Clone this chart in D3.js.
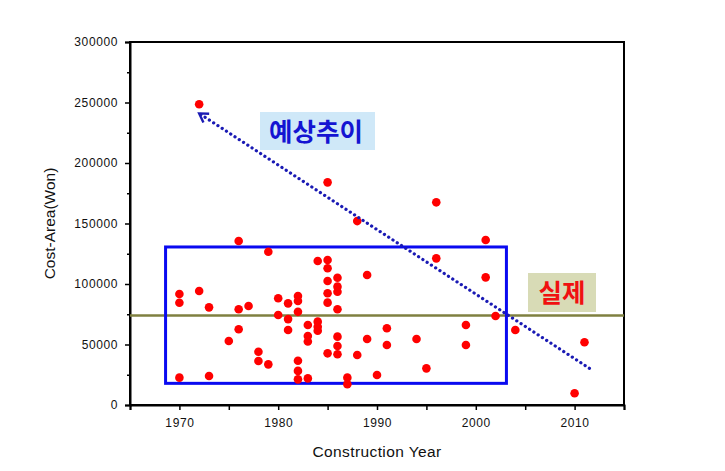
<!DOCTYPE html>
<html><head><meta charset="utf-8">
<script src="https://cdn.jsdelivr.net/npm/d3@7"></script>
<style>body{margin:0;background:#fff}svg{display:block}</style>
</head><body>
<script>
// ---- data ----
const years = [1970,1970,1970,1972,1972,1973,1973,1975,1976,1976,1976,1977,1978,1978,1979,1979,1980,1980,1981,1981,1981,
  1982,1982,1982,1982,1982,1982,1983,1983,1983,1983,1984,1984,1984,1984,
  1985,1985,1985,1985,1985,1985,1985,1986,1986,1986,1986,1986,1986,1986,
  1987,1987,1988,1988,1989,1989,1990,1991,1991,1994,1995,1996,1996,1999,1999,2001,2001,2002,2004,2010,2011];
const costs = [91700,84500,22600,248500,94200,80700,24000,52900,135500,79100,62600,81800,44000,36400,126700,33600,88200,74400,84000,71000,62000,
  90100,86000,77000,36600,28200,21200,66100,57000,52500,22000,119000,68900,64700,61400,
  184000,119800,113000,102500,92300,84600,42700,105200,97800,93600,79100,56500,48800,41900,
  22600,17100,152000,41300,107400,54500,24800,63400,49600,54500,30300,167500,121200,66100,49600,136400,105500,73500,62000,9700,51800];
const xTicks = [1970,1980,1990,2000,2010];
const yTicks = [0,50000,100000,150000,200000,250000,300000];
const actualLevel = 74000;            // 실제
const boxYears = [1968.6, 2003.1];
const boxCosts = [17900, 130600];
const trendYears = [2011.5, 1972.0];  // 예상추이 (arrow towards 1972)
const trendCosts = [30300, 241000];

const W = 725, H = 471;
const m = {l:130, r:101, t:42, b:66};
const svg = d3.select("body").append("svg").attr("width", W).attr("height", H)
  .style("font-family","'Liberation Sans', Arial, sans-serif");

const x = d3.scaleLinear().domain([1965,2015]).range([m.l, W - m.r]);
const y = d3.scaleLinear().domain([0,300000]).range([H - m.b, m.t]);

// frame
svg.append("rect").attr("x", x(1965)).attr("y", y(300000))
  .attr("width", x(2015)-x(1965)).attr("height", y(0)-y(300000))
  .attr("fill","none").attr("stroke","#000").attr("stroke-width",2);

// axes
const gx = svg.append("g").attr("transform",`translate(0,${y(0)})`)
  .call(d3.axisBottom(x).tickValues(d3.range(1965,2016,5)).tickSize(5).tickPadding(8)
    .tickFormat(d => xTicks.includes(d) ? d : ""));
const gy = svg.append("g").attr("transform",`translate(${x(1965)},0)`)
  .call(d3.axisLeft(y).tickValues(d3.range(0,300001,25000)).tickSize(5).tickPadding(7)
    .tickFormat(d => yTicks.includes(d) ? d : ""));
[gx,gy].forEach(g=>{
  g.select(".domain").attr("stroke-width",2);
  g.selectAll(".tick line").attr("stroke-width",1.5);
  g.selectAll("text").attr("font-size",12).attr("fill","#111").style("letter-spacing","0.6px")
   .style("font-family","'Liberation Sans', Arial, sans-serif");
});
gy.selectAll(".tick").filter(d=>!yTicks.includes(d)).select("line").attr("x2",-3);

// axis titles
svg.append("text").attr("x", (x(1965)+x(2015))/2).attr("y", 457).attr("text-anchor","middle")
  .attr("font-size",15.5).attr("fill","#111").style("letter-spacing","0.4px").text("Construction Year");
svg.append("text").attr("transform",`translate(55,${(y(0)+y(300000))/2}) rotate(-90)`)
  .attr("text-anchor","middle").attr("font-size",15.5).attr("fill","#111").text("Cost-Area(Won)");

// horizontal actual level line
svg.append("line").attr("x1", x(1965)).attr("x2", x(2015)).attr("y1", y(actualLevel)).attr("y2", y(actualLevel))
  .attr("stroke","#7f8040").attr("stroke-width",2.5);

// blue rectangle
svg.append("rect").attr("x", x(boxYears[0])).attr("y", y(boxCosts[1]))
  .attr("width", x(boxYears[1])-x(boxYears[0])).attr("height", y(boxCosts[0])-y(boxCosts[1]))
  .attr("fill","none").attr("stroke","#0a0af0").attr("stroke-width",3);

// points
svg.append("g").selectAll("circle").data(years.map((d,i)=>[d,costs[i]])).join("circle")
  .attr("cx", d=>x(d[0])).attr("cy", d=>y(d[1])).attr("r",4.3).attr("fill","#f00");

// dotted trend arrow
const x1 = x(trendYears[0]), y1 = y(trendCosts[0]), x2 = x(trendYears[1]), y2 = y(trendCosts[1]);
svg.append("line").attr("x1",x1).attr("y1",y1).attr("x2",x2).attr("y2",y2)
  .attr("stroke","#1a1ab4").attr("stroke-width",3.2).attr("stroke-dasharray","0.1 5").attr("stroke-linecap","round");
const ang = Math.atan2(y1-y2, x1-x2);
const al = 10, aw = 0.55;
svg.append("path")
  .attr("d", `M${x2+al*Math.cos(ang+aw)},${y2+al*Math.sin(ang+aw)} L${x2},${y2} L${x2+al*Math.cos(ang-aw)},${y2+al*Math.sin(ang-aw)}`)
  .attr("fill","none").attr("stroke","#1a1ab4").attr("stroke-width",2.4);

// labels
svg.append("rect").attr("x",260).attr("y",112).attr("width",115).attr("height",38).attr("fill","#cfe8f8");
svg.append("text").attr("x",316).attr("y",141).attr("text-anchor","middle")
  .attr("font-size",25.5).attr("font-weight","bold").attr("fill","#1414d2")
  .style("font-family","'Noto Sans CJK KR', sans-serif").text("예상추이");
svg.append("rect").attr("x",528).attr("y",273).attr("width",68).attr("height",39).attr("fill","#d8dbb6");
svg.append("text").attr("x",562).attr("y",302).attr("text-anchor","middle")
  .attr("font-size",25.5).attr("font-weight","bold").attr("fill","#f01010")
  .style("font-family","'Noto Sans CJK KR', sans-serif").text("실제");
</script>
</body></html>
